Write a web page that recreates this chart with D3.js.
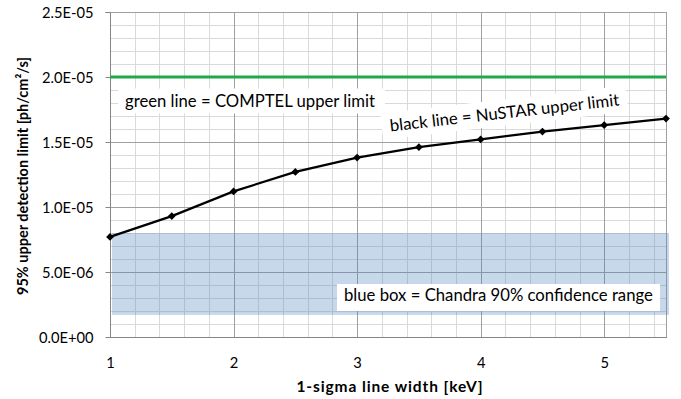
<!DOCTYPE html>
<html>
<head>
<meta charset="utf-8">
<script src="https://cdn.jsdelivr.net/npm/d3@7"></script>
<style>
  html, body { margin: 0; padding: 0; background: #fff; }
  svg { display: block; }
  text { font-family: Lato, "Open Sans", sans-serif; fill: #000; }
</style>
</head>
<body>
<svg id="chart" width="681" height="399"></svg>
<script>
// ---- data ----
const lineWidths = [1, 1.5, 2, 2.5, 3, 3.5, 4, 4.5, 5, 5.5];
const nustarLimit = [7.7e-6, 9.3e-6, 1.12e-5, 1.27e-5, 1.38e-5, 1.46e-5, 1.52e-5, 1.58e-5, 1.63e-5, 1.68e-5];
const comptelX = [1, 5.5];
const comptelLimit = [2.0e-5, 2.0e-5];
const chandraRange = [1.7e-6, 8.0e-6];
const yTicks = [0, 5e-6, 1e-5, 1.5e-5, 2e-5, 2.5e-5];
const yTickLabels = ["0.0E+00", "5.0E-06", "1.0E-05", "1.5E-05", "2.0E-05", "2.5E-05"];
const xTicks = [1, 2, 3, 4, 5];
const xTickLabels = ["1", "2", "3", "4", "5"];
const xTitle = "1-sigma line width [keV]";
const yTitle = "95% upper detection limit [ph/cm²/s]";
const labelGreen = "green line = COMPTEL upper limit";
const labelBlack = "black line = NuSTAR upper limit";
const labelBlue = "blue box = Chandra 90% confidence range";

// ---- layout ----
const svg = d3.select("#chart");
const L = 110, R = 666, T = 12, B = 337;
const x = d3.scaleLinear().domain([1, 5.5]).range([L, R]);
const y = d3.scaleLinear().domain([0, 2.5e-5]).range([B, T]);
const cx = v => Math.round(x(v)) + 0.5;
const cy = v => Math.round(y(v)) + 0.5;

// minor gridlines
const minorX = d3.range(1, 5.5001, 0.2).filter(v => Math.abs(v - Math.round(v)) > 1e-6);
const minorY = d3.range(0, 2.50001e-5, 1e-6).filter(v => Math.abs(v / 5e-6 - Math.round(v / 5e-6)) > 1e-6);
const grid = svg.append("g");
grid.selectAll(".mx").data(minorX).join("line")
  .attr("x1", cx).attr("x2", cx).attr("y1", T).attr("y2", B)
  .attr("stroke", "#d9d9d9").attr("stroke-width", 1);
grid.selectAll(".my").data(minorY).join("line")
  .attr("x1", L).attr("x2", R).attr("y1", cy).attr("y2", cy)
  .attr("stroke", "#d9d9d9").attr("stroke-width", 1);
// major gridlines
grid.selectAll(".Mx").data(xTicks.slice(1)).join("line")
  .attr("x1", cx).attr("x2", cx).attr("y1", T).attr("y2", B)
  .attr("stroke", "#a0a0a0").attr("stroke-width", 1);
grid.selectAll(".My").data(yTicks.slice(1)).join("line")
  .attr("x1", L).attr("x2", R).attr("y1", cy).attr("y2", cy)
  .attr("stroke", "#a0a0a0").attr("stroke-width", 1);
// right border
grid.append("line").attr("x1", cx(5.5)).attr("x2", cx(5.5)).attr("y1", T).attr("y2", B)
  .attr("stroke", "#a0a0a0");

// Chandra box
svg.append("rect")
  .attr("x", x(1) + 2).attr("width", x(5.5) + 3 - x(1) - 2)
  .attr("y", y(chandraRange[1])).attr("height", y(chandraRange[0]) - y(chandraRange[1]))
  .attr("fill", "#4f81bd").attr("fill-opacity", 0.31);

// axes
const yAxis = d3.axisLeft(y).tickValues(yTicks).tickFormat((d, i) => yTickLabels[i]).tickSize(5).tickPadding(12);
const gy = svg.append("g").attr("transform", `translate(${L + 0.5},0)`).call(yAxis);
gy.select(".domain").attr("stroke", "#868686").attr("d", `M-5,${T + 0.5}H0V${B + 0.5}`);
gy.selectAll(".tick line").attr("stroke", "#868686");
gy.selectAll(".tick").attr("transform", d => `translate(0,${cy(d)})`);
gy.selectAll(".tick text").attr("font-size", 14.7).attr("font-family", "Lato, sans-serif").attr("fill", "#000").attr("dy", "0.36em");

const xAxis = d3.axisBottom(x).tickValues(xTicks).tickFormat((d, i) => xTickLabels[i]).tickSize(0).tickPadding(20);
const gx = svg.append("g").attr("transform", `translate(0,${B + 0.5})`).call(xAxis);
gx.select(".domain").attr("stroke", "#868686").attr("d", `M${L},0H${R + 1}`);
gx.selectAll(".tick text").attr("font-size", 14.7).attr("font-family", "Lato, sans-serif").attr("fill", "#000");

// titles
svg.append("text").attr("x", 390).attr("y", 391.5).attr("text-anchor", "middle")
  .attr("font-weight", "bold").attr("font-size", 15.5).attr("letter-spacing", 0.9).text(xTitle);
svg.append("text").attr("transform", "translate(28,176) rotate(-90)").attr("text-anchor", "middle")
  .attr("font-weight", "bold").attr("font-size", 14.5).text(yTitle);

// label helper: white box behind text
function label(txt, tx, ty, anchor, rot, padL, padR, padT, padB) {
  const g = svg.append("g").attr("transform", `translate(${tx},${ty}) rotate(${rot})`);
  const rect = g.append("rect").attr("fill", "#fff");
  const t = g.append("text").attr("text-anchor", anchor).attr("font-size", 16.7).text(txt);
  const bb = t.node().getBBox();
  rect.attr("x", bb.x - padL).attr("y", bb.y - padT)
      .attr("width", bb.width + padL + padR).attr("height", bb.height + padT + padB);
}
label(labelGreen, 125, 106.5, "start", 0, 7, 10, 2, 3);
label(labelBlue, 344, 301, "start", 0, 7, 7, 1, 6);
label(labelBlack, 505, 118.5, "middle", -6.5, 8, 8, 3, 3);

// COMPTEL line
svg.append("path")
  .datum(comptelX.map((v, i) => [v, comptelLimit[i]]))
  .attr("d", d3.line().x(d => x(d[0])).y(d => y(d[1])))
  .attr("fill", "none").attr("stroke", "#22a84c").attr("stroke-width", 3);

// NuSTAR line
const pts = lineWidths.map((v, i) => [v, nustarLimit[i]]);
svg.append("path").datum(pts)
  .attr("d", d3.line().x(d => x(d[0])).y(d => y(d[1])))
  .attr("fill", "none").attr("stroke", "#000").attr("stroke-width", 2.2);
svg.selectAll(".mk").data(pts).join("path")
  .attr("d", d3.symbol(d3.symbolSquare, 30))
  .attr("transform", d => `translate(${x(d[0])},${y(d[1])}) rotate(45)`)
  .attr("fill", "#000");
</script>
</body>
</html>
